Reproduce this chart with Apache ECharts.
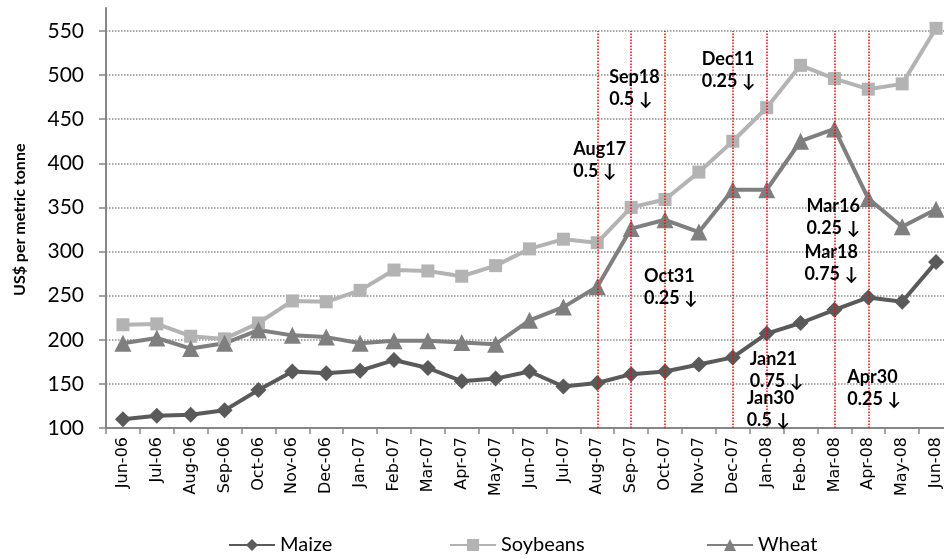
<!DOCTYPE html>
<html>
<head>
<meta charset="utf-8">
<script src="https://cdn.jsdelivr.net/npm/echarts@6/dist/echarts.min.js"></script>
<style>
  html, body { margin: 0; padding: 0; background: #fff; }
  #chart { width: 944px; height: 559px; }
</style>
</head>
<body>
<div id="chart"></div>
<script>
// months on the x axis
const months = ['Jun-06', 'Jul-06', 'Aug-06', 'Sep-06', 'Oct-06', 'Nov-06', 'Dec-06',
  'Jan-07', 'Feb-07', 'Mar-07', 'Apr-07', 'May-07', 'Jun-07', 'Jul-07', 'Aug-07',
  'Sep-07', 'Oct-07', 'Nov-07', 'Dec-07', 'Jan-08', 'Feb-08', 'Mar-08', 'Apr-08',
  'May-08', 'Jun-08'];

// prices, US$ per metric tonne
const maize = [110, 114, 115, 120, 143, 164, 162, 165, 177, 168, 153, 156, 164, 147, 151,
  161, 164, 172, 180, 207, 219, 234, 248, 243, 288];
const soybeans = [217, 218, 204, 201, 219, 244, 243, 256, 279, 278, 272, 284, 303, 314, 310,
  350, 359, 390, 425, 463, 511, 496, 484, 490, 553];
const wheat = [196, 202, 190, 196, 211, 205, 203, 196, 199, 199, 197, 195, 222, 237, 260,
  326, 336, 322, 370, 370, 425, 439, 360, 328, 348];

// months with a rate cut (red dotted lines)
const cutMonths = ['Aug-07', 'Sep-07', 'Oct-07', 'Dec-07', 'Jan-08', 'Mar-08', 'Apr-08'];

// rate cut notes: text, month it sits by, value at the top of the text
const noteText = ['Aug17\n0.5 ↓', 'Sep18\n0.5 ↓', 'Oct31\n0.25 ↓', 'Dec11\n0.25 ↓',
  'Jan21\n0.75 ↓', 'Jan30\n0.5 ↓', 'Mar16\n0.25 ↓', 'Mar18\n0.75 ↓', 'Apr30\n0.25 ↓'];
const noteMonth = ['Aug-07', 'Sep-07', 'Oct-07', 'Dec-07', 'Jan-08', 'Jan-08', 'Mar-08', 'Mar-08', 'Apr-08'];
const noteValue = [428, 510, 284, 530, 190, 146, 364, 312, 170];
const noteShift = [-24, -22, -21, -31, -17, -20, -28, -30, -21]; // px left of the month centre

const yTicks = [100, 150, 200, 250, 300, 350, 400, 450, 500, 550];
const yTitle = 'US$ per metric tonne';

// legend entries and where each one starts
const legendNames = ['Maize', 'Soybeans', 'Wheat'];
const legendLeft = [228, 449, 706];

const chart = echarts.init(document.getElementById('chart'));

const lineSeries = (name, data, color, symbol, size) => ({
  name: name,
  type: 'line',
  data: data,
  symbol: symbol,
  symbolSize: size,
  showAllSymbol: true,
  lineStyle: { color: color, width: 4 },
  itemStyle: { color: color, borderWidth: 0 },
  emphasis: { disabled: true },
  animation: false
});

const option = {
  backgroundColor: '#fff',
  animation: false,
  grid: {
    left: 106,
    top: 8,
    width: 847,
    height: 420,
    containLabel: false,
    outerBoundsMode: 'none'
  },
  legend: legendNames.map((n, i) => ({
    data: [n],
    left: legendLeft[i],
    top: 535,
    padding: 0,
    itemWidth: 46,
    itemHeight: 15,
    textStyle: { fontFamily: 'Lato', fontSize: 20, color: '#000' }
  })),
  xAxis: {
    type: 'category',
    data: months,
    boundaryGap: true,
    axisLine: { lineStyle: { color: '#868686', width: 2 } },
    axisTick: { show: true, length: 6, lineStyle: { color: '#868686', width: 1.5 } },
    axisLabel: {
      interval: 0,
      rotate: 90,
      margin: 9,
      fontFamily: 'DejaVu Sans',
      fontSize: 16,
      color: '#000'
    },
    splitLine: { show: false }
  },
  yAxis: {
    type: 'value',
    min: 100,
    max: 576,
    interval: 50,
    axisLine: { show: true, lineStyle: { color: '#868686', width: 2 } },
    axisTick: { show: true, length: 7, customValues: yTicks, lineStyle: { color: '#868686', width: 1.5 } },
    axisLabel: {
      customValues: yTicks,
      margin: 22,
      fontFamily: 'Lato',
      fontSize: 21,
      color: '#000'
    },
    splitLine: {
      show: true,
      lineStyle: { color: '#8c8c8c', type: 'dotted', width: 1.5 }
    }
  },
  series: [
    lineSeries('Maize', maize, '#5a5a5a', 'diamond', 16),
    lineSeries('Soybeans', soybeans, '#b3b3b3', 'rect', 13),
    lineSeries('Wheat', wheat, '#7f7f7f', 'triangle', 17),
    {
      name: 'cuts',
      type: 'line',
      data: [],
      silent: true,
      markLine: {
        symbol: ['none', 'none'],
        silent: true,
        label: { show: false },
        lineStyle: { color: '#ff0000', type: 'dotted', width: 1.5 },
        data: cutMonths.map(m => [{ coord: [m, 100] }, { coord: [m, 550] }])
      },
      z: 1
    }
  ]
};

chart.setOption(option);

// rate cut notes placed from the data coordinates
const notes = noteText.map((t, i) => {
  const p = chart.convertToPixel({ gridIndex: 0 }, [noteMonth[i], noteValue[i]]);
  return {
    type: 'text',
    x: p[0] + noteShift[i],
    y: p[1],
    z: 100,
    style: {
      text: t,
      fontFamily: 'Lato',
      fontWeight: 'bold',
      fontSize: 18,
      lineHeight: 22,
      fill: '#000',
      verticalAlign: 'top'
    }
  };
});

// axis title
const mid = chart.convertToPixel({ gridIndex: 0 }, [months[0], 336]);
notes.push({
  type: 'text',
  x: 20,
  y: mid[1],
  rotation: Math.PI / 2,
  style: {
    text: yTitle,
    fontFamily: 'Lato',
    fontWeight: 'bold',
    fontSize: 16,
    fill: '#000',
    align: 'center',
    verticalAlign: 'middle'
  }
});
chart.setOption({ graphic: notes });
</script>
</body>
</html>
